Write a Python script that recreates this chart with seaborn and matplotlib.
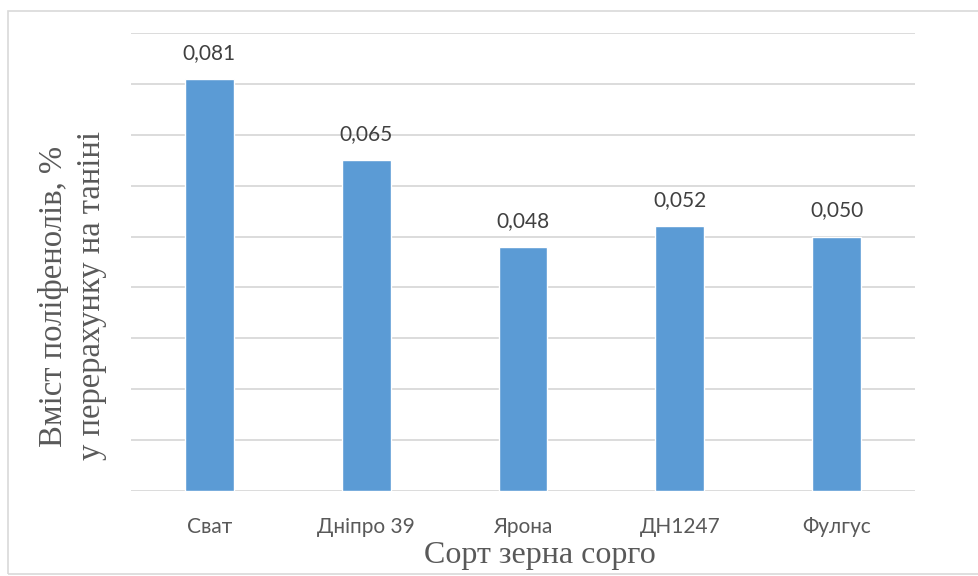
import matplotlib
matplotlib.use("Agg")
import matplotlib.pyplot as plt
import matplotlib.patches as mpatches
import seaborn as sns
import pandas as pd

varieties = ["Сват", "Дніпро 39", "Ярона", "ДН1247", "Фулгус"]
polyphenols = [0.081, 0.065, 0.048, 0.052, 0.050]
value_labels = ["0,081", "0,065", "0,048", "0,052", "0,050"]

df = pd.DataFrame({"variety": varieties, "value": polyphenols})

sns.set_theme(style="white")
plt.rcParams["font.family"] = ["Lato", "Open Sans", "DejaVu Sans"]

fig = plt.figure(figsize=(9.79, 5.76), dpi=100)
ax = fig.add_axes([131 / 979, 1 - 491 / 576, (915 - 131) / 979, (491 - 33) / 576])

sns.barplot(data=df, x="variety", y="value", color="#5B9BD5", saturation=1,
            width=0.31, ax=ax, zorder=3)

ax.set_ylim(0, 0.09)
ax.set_xlim(-0.5, len(varieties) - 0.5)
ax.set_yticks([i * 0.01 for i in range(10)])
ax.yaxis.grid(True, color="#D9D9D9", linewidth=1.3, zorder=0)
ax.tick_params(axis="y", left=False, labelleft=False)
ax.tick_params(axis="x", bottom=False, labelsize=15, labelcolor="#595959", pad=13)
for s in ax.spines.values():
    s.set_visible(False)

for bar, lab in zip(ax.patches, value_labels):
    ax.annotate(lab, (bar.get_x() + bar.get_width() / 2, bar.get_height()),
                xytext=(0, 14.4), textcoords="offset points", ha="center", va="baseline",
                fontsize=15, color="#404040")

serif = ["Liberation Serif", "DejaVu Serif"]
ax.set_xlabel("Сорт зерна сорго", fontsize=23, color="#595959", family=serif)
ax.xaxis.label.set_va("baseline")
ax.xaxis.set_label_coords((540 - 131) / 784, (491 - 563) / 458)

ax.set_ylabel("Вміст поліфенолів, %\nу перерахунку на таніні", fontsize=23.5,
              color="#595959", family=serif, linespacing=1.3)
ax.yaxis.set_label_coords((107 - 131) / 784, (491 - 296) / 458)

# light frame around the chart area
fig.patches.append(mpatches.Rectangle((8 / 979, 2 / 576), 1.2, 1 - 13 / 576,
                                      transform=fig.transFigure, fill=False,
                                      edgecolor="#D9D9D9", linewidth=1.2))

fig.savefig("out.png", dpi=100)
